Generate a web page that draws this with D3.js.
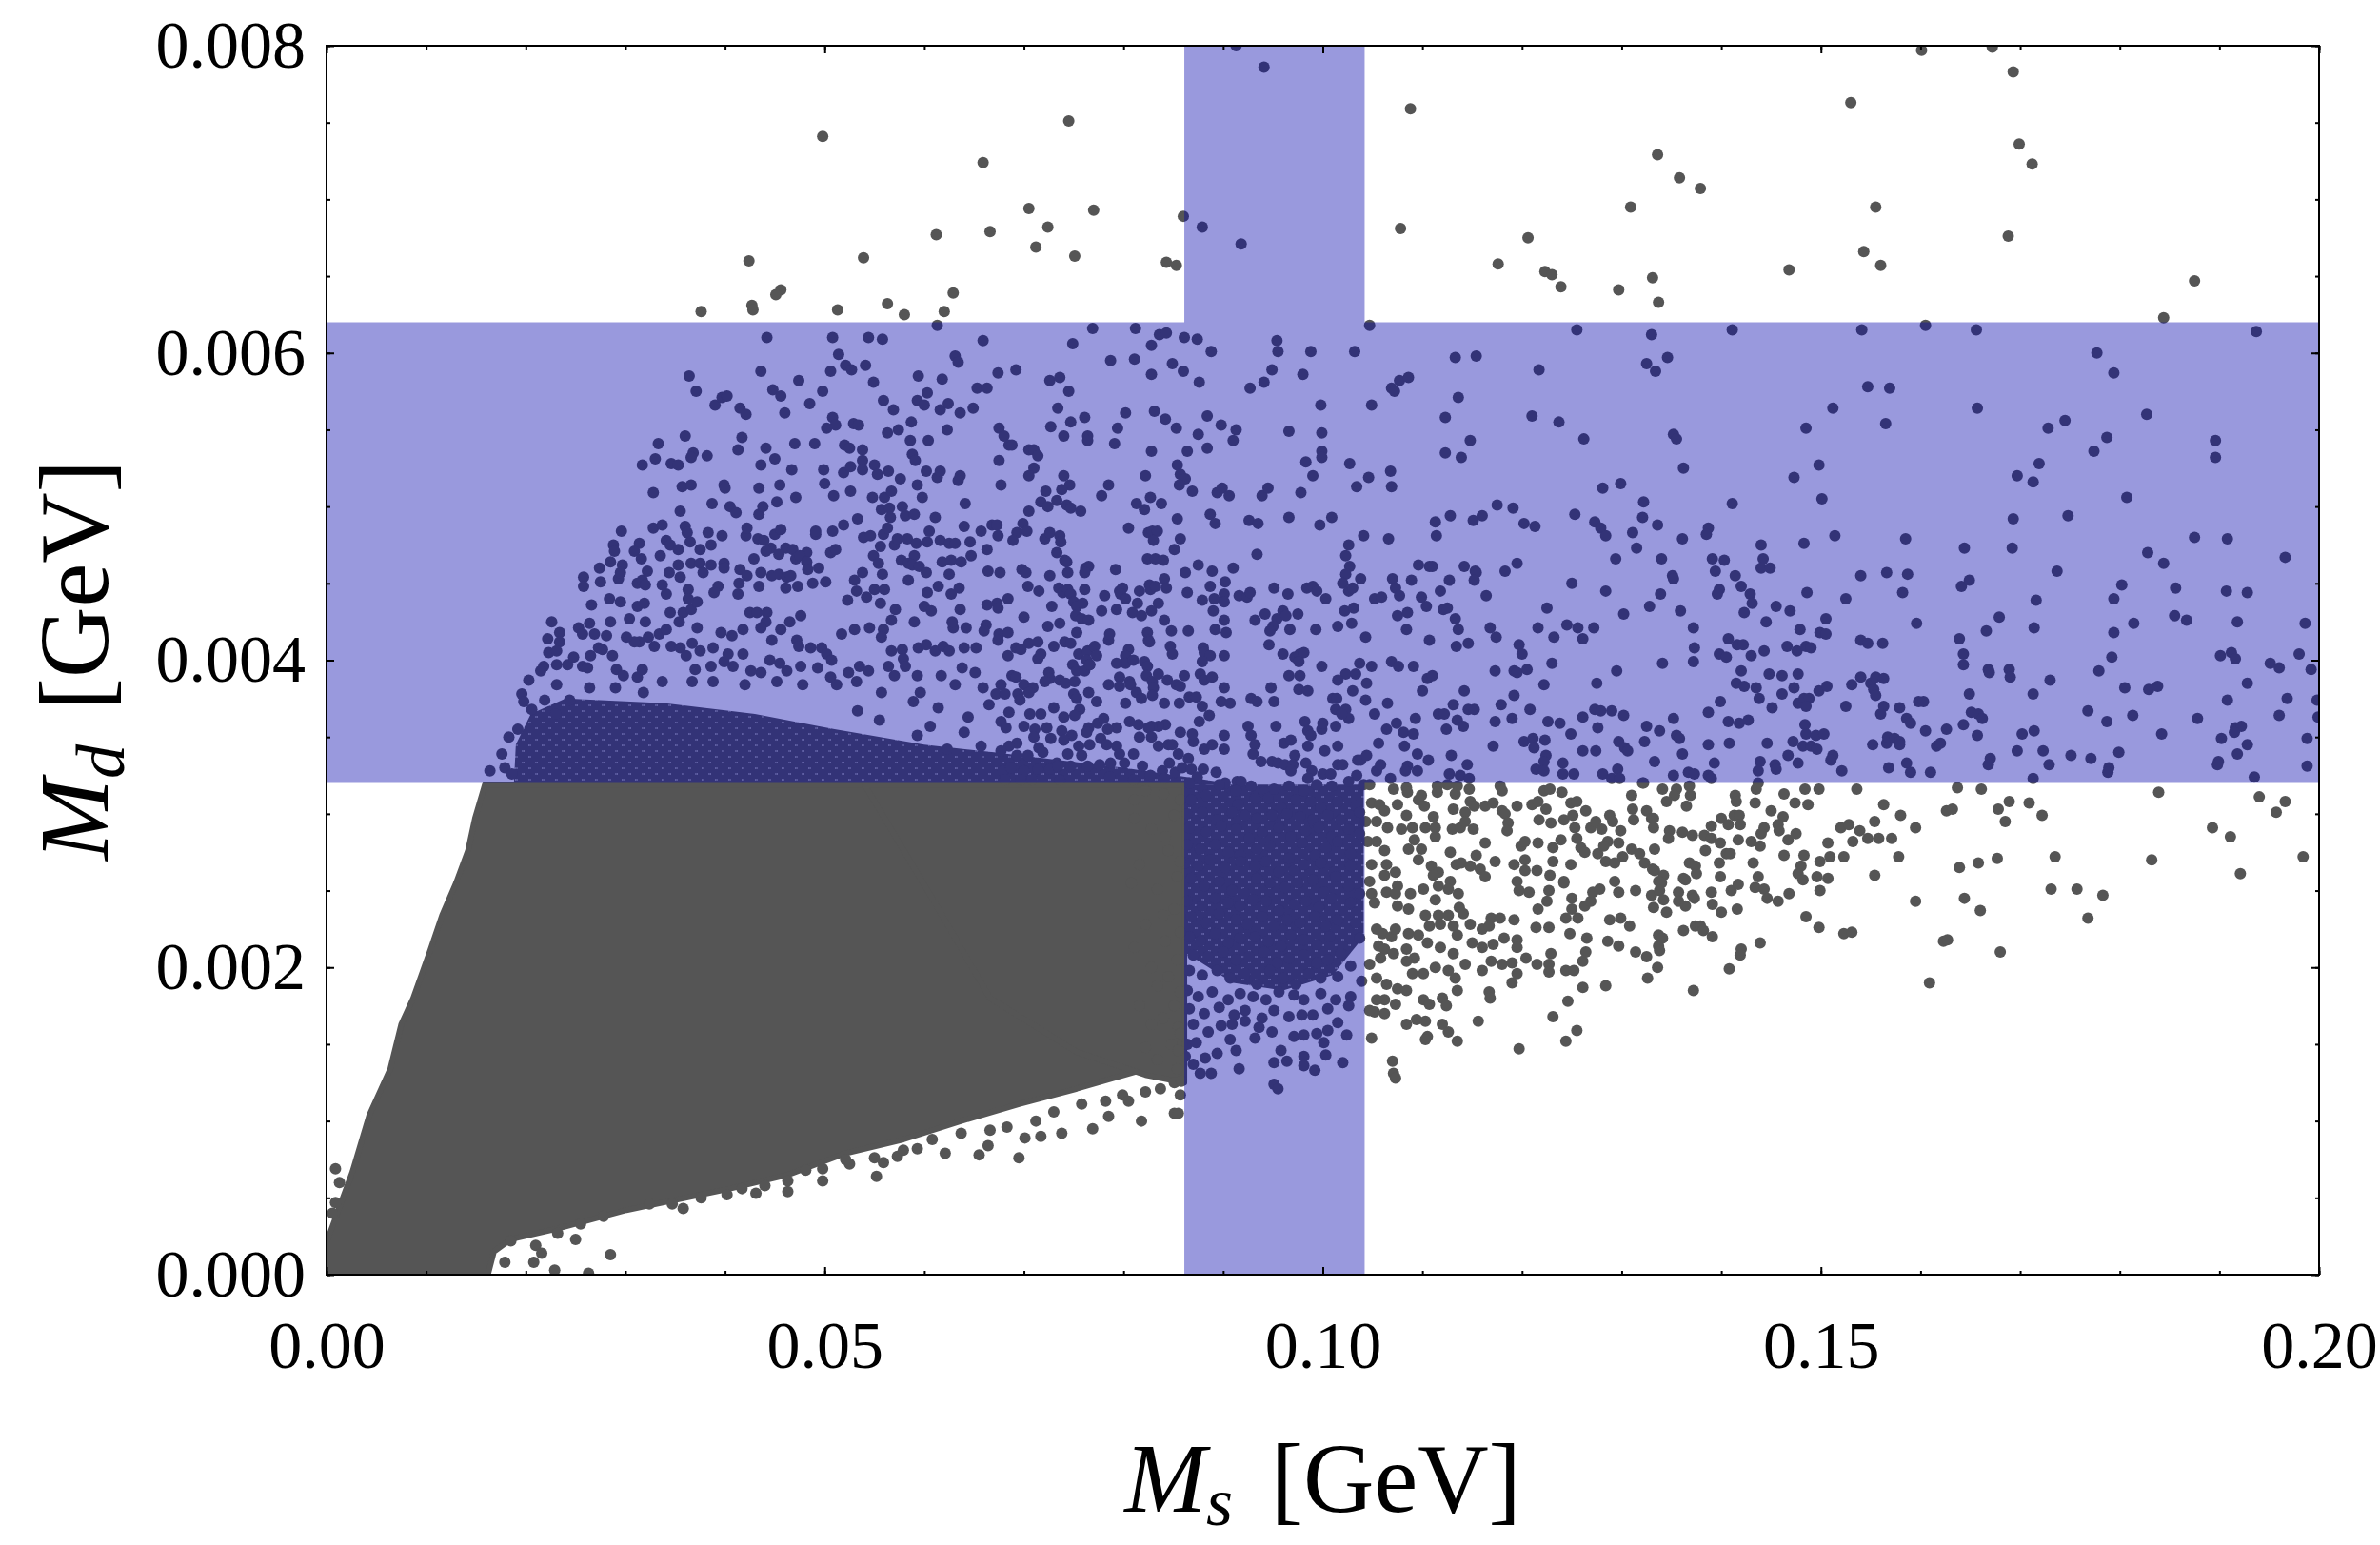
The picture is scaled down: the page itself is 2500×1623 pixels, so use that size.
<!DOCTYPE html>
<html lang="en">
<head>
<meta charset="utf-8"/>
<title>Md vs Ms scan</title>
<script src="https://cdn.jsdelivr.net/npm/d3@7"></script>
<style>
  body { margin: 0; background: #fff; }
  text { font-family: "Liberation Serif", "DejaVu Serif", serif; }
</style>
</head>
<body>
<svg id="chart"></svg>
<script>
// axis ticks (GeV)
const xTicks = [0, 0.05, 0.10, 0.15, 0.20]
const yTicks = [0, 0.002, 0.004, 0.006, 0.008]
// allowed ranges drawn as the blue cross (GeV)
const bandMs = [0.0861, 0.1042]
const bandMd = [0.0032, 0.0062]

// scan points below, all read off the picture, [Ms, Md] in MeV
// outlines of the regions where points overlap into a (nearly) solid mass
const coreLow = [[0,0],[0,0.21],[2.6,0.67],[4.3,1.04],[6.4,1.34],[7.5,1.63],[8.7,1.80],[10.4,2.11],[11.6,2.34],[13.0,2.55],[14.2,2.76],[14.9,2.97],[15.9,3.19],[55.0,3.19],[60.8,2.49],[66.6,1.86],[75.3,1.50],[82.2,1.34],[75.3,1.21],[69.5,1.11],[63.7,1.00],[57.9,0.88],[52.1,0.79],[46.3,0.65],[40.5,0.56],[30.1,0.42],[23.2,0.30],[18.5,0.23],[16.8,0.15],[16.2,0]]
const coreLowEdge = [[54.0,3.19],[86.1,3.19],[86.1,1.25],[82.2,1.30],[75.3,1.45],[66.6,1.80],[60.8,2.45]]
const coreBand = [[18.8,3.19],[19.0,3.45],[20.5,3.65],[24.0,3.75],[34.0,3.72],[43.0,3.65],[51.0,3.55],[60.0,3.45],[67.0,3.40],[80.0,3.30],[90.4,3.20],[90.4,3.19]]
const coreStrip = [[86.1,3.19],[104.1,3.19],[104.1,2.20],[101.0,1.95],[96.0,1.85],[91.0,1.90],[86.1,2.10]]

const ptsTop = [[91.3,8.00],[94.1,7.86],[49.8,7.41],[74.5,7.51],[65.9,7.24],[70.5,6.94],[77.0,6.93],[86.0,6.89],[87.9,6.82],[91.8,6.71],[61.2,6.77],[66.6,6.79],[72.4,6.82],[71.2,6.69],[75.1,6.63],[42.4,6.60],[53.9,6.62],[84.3,6.59],[85.3,6.57],[45.6,6.41],[45.1,6.38],[62.9,6.39],[42.7,6.31],[42.8,6.28],[37.6,6.27],[51.3,6.28],[56.3,6.32],[58.0,6.25],[62.0,6.27],[160.1,7.97],[167.2,7.99],[169.3,7.83],[108.8,7.59],[153.0,7.63],[169.9,7.36],[171.2,7.23],[133.6,7.29],[135.8,7.14],[137.9,7.07],[130.9,6.95],[155.5,6.95],[107.8,6.81],[120.6,6.75],[168.8,6.76],[154.3,6.66],[156.0,6.57],[117.6,6.58],[122.3,6.53],[123.0,6.51],[146.8,6.54],[133.1,6.49],[123.9,6.43],[129.7,6.41],[133.7,6.33],[187.5,6.47],[184.4,6.23]]

const ptsBandLeft = [[44.2,6.10],[50.8,6.10],[54.4,6.10],[55.8,6.09],[61.3,6.18],[65.9,6.08],[36.4,5.85],[37.1,5.75],[43.6,5.88],[47.4,5.82],[50.6,5.88],[51.4,5.99],[52.1,5.92],[52.7,5.89],[54.1,5.92],[54.9,5.81],[59.4,5.85],[61.8,5.83],[63.1,5.98],[63.4,5.94],[65.3,5.77],[66.3,5.77],[39.0,5.66],[39.7,5.71],[40.2,5.72],[41.5,5.64],[42.1,5.60],[44.8,5.76],[45.6,5.72],[46.0,5.61],[48.5,5.67],[49.8,5.75],[50.8,5.58],[51.1,5.53],[50.2,5.51],[52.9,5.54],[53.4,5.53],[55.9,5.69],[56.9,5.63],[59.3,5.69],[60.0,5.66],[60.3,5.74],[61.6,5.63],[62.4,5.67],[63.6,5.61],[64.9,5.64],[58.7,5.55],[57.4,5.50],[56.3,5.48],[62.3,5.50],[60.4,5.43],[36.0,5.46],[33.3,5.41],[41.7,5.45],[41.3,5.37],[44.1,5.38],[47.0,5.41],[49.0,5.41],[52.0,5.40],[52.5,5.38],[53.8,5.37],[58.6,5.43],[58.8,5.34],[59.1,5.30],[38.2,5.33],[36.8,5.35],[36.6,5.32],[33.0,5.31],[31.7,5.27],[34.6,5.28],[35.3,5.27],[43.6,5.27],[45.0,5.31],[46.7,5.24],[49.9,5.24],[51.9,5.22],[52.6,5.26],[53.8,5.30],[53.8,5.24],[55.0,5.27],[55.3,5.21],[56.4,5.23],[57.6,5.18],[60.2,5.23],[61.3,5.19],[61.6,5.23],[63.6,5.20],[63.4,5.17],[32.8,5.09],[35.7,5.13],[36.6,5.14],[39.9,5.14],[40.0,5.12],[43.4,5.12],[45.5,5.14],[47.1,5.06],[50.0,5.15],[50.9,5.07],[52.6,5.10],[54.8,5.06],[56.0,5.06],[56.7,5.10],[59.3,5.14],[59.8,5.06],[64.1,5.02],[38.7,5.02],[35.5,4.97],[40.5,5.00],[41.1,4.96],[43.4,4.95],[43.8,5.00],[45.2,5.03],[53.3,4.92],[55.7,4.98],[56.5,4.99],[56.6,4.93],[57.8,5.00],[58.1,4.94],[59.0,4.95],[61.1,4.93],[29.6,4.84],[32.8,4.86],[33.7,4.88],[36.0,4.87],[36.2,4.83],[36.5,4.77],[34.1,4.78],[34.5,4.75],[35.3,4.72],[38.3,4.83],[38.6,4.75],[37.5,4.72],[39.7,4.81],[42.1,4.81],[42.2,4.86],[43.3,4.79],[43.9,4.78],[44.6,4.73],[45.0,4.82],[45.6,4.85],[46.1,4.73],[46.8,4.72],[48.2,4.70],[49.1,4.82],[49.1,4.84],[50.8,4.84],[50.6,4.70],[51.1,4.72],[51.9,4.88],[53.9,4.80],[54.6,4.81],[55.6,4.74],[55.9,4.82],[56.3,4.86],[57.0,4.75],[57.3,4.79],[58.3,4.79],[59.0,4.68],[59.2,4.76],[60.3,4.77],[60.5,4.84],[61.6,4.78],[62.5,4.76],[63.1,4.76],[64.0,4.87],[64.6,4.77],[65.7,4.84],[66.3,4.72],[66.8,4.88],
[28.8,4.75],[28.9,4.71],[31.4,4.76],[30.9,4.71],[31.6,4.66],[28.5,4.64],[29.7,4.62],[27.4,4.60],[25.8,4.54],[25.8,4.48],[27.5,4.51],[29.3,4.53],[29.5,4.57],[31.2,4.50],[31.7,4.52],[32.2,4.58],[33.5,4.68],[34.4,4.57],[35.5,4.54],[35.3,4.62],[36.6,4.63],[37.5,4.63],[37.8,4.57],[38.6,4.62],[39.9,4.63],[39.9,4.60],[41.5,4.59],[42.2,4.55],[42.9,4.66],[44.1,4.71],[43.6,4.57],[44.7,4.55],[45.4,4.56],[46.2,4.54],[46.6,4.55],[45.4,4.69],[47.1,4.66],[47.5,4.68],[48.2,4.64],[48.3,4.59],[49.4,4.60],[50.1,4.51],[48.8,4.50],[47.3,4.48],[46.1,4.47],[43.4,4.48],[41.4,4.50],[41.3,4.43],[39.3,4.48],[38.9,4.44],[36.3,4.46],[34.1,4.43],[33.7,4.49],[32.0,4.49],[54.9,4.68],[55.4,4.63],[55.8,4.56],[57.7,4.65],[58.4,4.63],[58.8,4.62],[59.5,4.61],[60.2,4.57],[61.8,4.64],[62.7,4.65],[63.7,4.64],[64.7,4.68],[66.4,4.58],[62.5,4.56],[58.4,4.52],[53.0,4.52],[53.8,4.57],[55.0,4.46],[56.0,4.46],[63.5,4.47],[60.3,4.44],[61.4,4.48],[62.7,4.43],[53.2,4.45],[52.3,4.39],[66.3,4.36],
[22.6,4.25],[23.4,4.18],[22.2,4.14],[23.4,4.12],[22.3,4.05],[23.1,4.06],[21.8,3.96],[21.5,3.93],[20.3,3.87],[19.6,3.78],[19.8,3.73],[20.6,3.68],[21.9,3.74],[23.1,3.84],[23.1,3.97],[24.2,3.97],[24.8,4.02],[25.7,3.96],[26.2,3.95],[26.5,4.03],[26.6,4.36],[25.3,4.21],[26.4,4.24],[25.7,4.17],[26.9,4.17],[28.1,4.16],[28.5,4.25],[28.4,4.40],[29.5,4.38],[30.4,4.27],[31.2,4.35],[31.9,4.37],[32.0,4.25],[32.3,4.15],[31.4,4.12],[30.9,4.12],[30.1,4.15],[27.3,4.08],[27.7,4.07],[28.7,4.03],[29.1,3.94],[29.8,3.90],[31.2,3.89],[31.7,3.94],[32.9,4.09],[33.4,4.17],[34.1,4.20],[34.5,4.31],[35.8,4.31],[35.4,4.25],[36.6,4.33],[37.2,4.38],[36.3,4.40],[37.2,4.21],[34.6,4.09],[35.5,4.08],[36.1,4.03],[36.7,4.11],[37.5,4.06],[38.8,4.08],[39.6,4.18],[40.7,4.16],[41.8,4.20],[42.5,4.31],[43.2,4.31],[44.2,4.31],[44.1,4.25],[43.6,4.21],[44.7,4.13],[45.6,4.20],[46.5,4.25],[47.6,4.29],[47.2,4.13],[47.4,4.09],[48.6,4.08],[49.7,4.08],[50.2,4.04],[50.7,4.00],[51.7,4.17],[53.0,4.20],[54.5,4.21],[55.9,4.20],[56.7,4.26],[57.1,4.33],[55.6,4.37],[54.2,4.41],[55.7,4.15],[56.7,4.06],[57.8,4.07],[57.9,4.01],[59.4,4.08],[60.2,4.10],[61.1,4.06],[61.9,4.09],[62.5,4.06],[64.0,4.08],[65.2,4.08],[62.9,4.21],[64.2,4.21],[62.8,4.25],[66.2,4.23],[66.0,4.19],[60.0,4.35],[59.0,4.25],[60.7,4.32],[63.6,4.33],[47.6,3.96],[46.2,3.93],[45.5,3.98],[43.6,3.92],[42.6,3.93],[40.8,3.96],[39.9,3.99],[38.6,3.96],[37.0,3.94],[40.3,4.04],[41.8,4.04],[44.5,4.00],[49.3,3.95],[50.6,3.89],[52.4,3.92],[53.5,3.96],[54.4,3.93],[56.4,3.96],[57.0,3.90],[58.1,3.96],[59.3,3.90],[61.7,3.90],[63.1,3.84],[63.8,3.95],[65.1,3.92],[65.9,3.82],[59.6,3.79],[55.7,3.79],[53.2,3.86],[51.2,3.84],[47.8,3.84],[45.2,3.86],[42.0,3.84],[38.8,3.86],[36.7,3.86],[33.7,3.86],[31.8,3.79],[29.0,3.82],[26.4,3.82],[24.4,3.74],[23.0,3.65],[66.5,3.71],[64.4,3.63],[61.4,3.69],[58.9,3.73],[60.6,3.57],[64.0,3.53],[65.7,3.44],[62.3,3.42],[59.3,3.51],[55.5,3.61],[53.3,3.67],[16.4,3.28],[17.6,3.39],[18.3,3.50],[19.2,3.55],[17.9,3.30],[18.6,3.26]]

const ptsBandMid = [[104.7,6.18],[125.5,6.15],[133.0,6.12],[95.4,6.08],[95.5,6.01],[98.8,6.01],[103.2,6.01],[113.3,5.97],[115.4,5.98],[121.7,5.89],[132.5,5.93],[133.4,5.88],[92.7,5.77],[94.1,5.81],[94.9,5.89],[98.0,5.86],[106.9,5.77],[107.2,5.75],[107.7,5.82],[108.6,5.84],[99.8,5.66],[104.9,5.66],[113.6,5.71],[112.3,5.58],[121.0,5.59],[123.7,5.55],[96.6,5.49],[99.9,5.48],[114.8,5.43],[126.2,5.44],[99.9,5.36],[99.9,5.32],[98.3,5.29],[102.7,5.28],[112.3,5.35],[113.9,5.32],[99.0,5.20],[104.6,5.19],[106.8,5.23],[106.9,5.13],[103.4,5.13],[97.8,5.09],[93.9,5.07],[94.5,5.12],[128.1,5.12],[129.9,5.15],[132.2,5.03],[117.5,5.01],[119.1,4.99],[92.6,4.91],[93.5,4.89],[96.6,4.93],[99.7,4.88],[100.9,4.93],[111.3,4.90],[112.8,4.94],[115.1,4.91],[116.0,4.94],[120.2,4.89],[121.3,4.87],[125.3,4.95],[127.3,4.90],[127.9,4.86],[132.1,4.93],[133.6,4.88],[104.1,4.81],[106.6,4.79],[111.4,4.81],[102.6,4.75],[102.3,4.68],[102.7,4.61],[128.4,4.81],[131.1,4.83],[131.5,4.73],[129.4,4.66],[93.4,4.69],[109.6,4.62],[110.7,4.61],[111.0,4.61],[114.2,4.61],[115.3,4.58],[115.4,4.57],[118.3,4.58],[119.5,4.63],[102.3,4.56],[102.0,4.50],[103.8,4.53],[107.0,4.53],[107.3,4.47],[108.9,4.52],[112.7,4.52],[115.2,4.52],[111.8,4.45],[125.0,4.50],[128.4,4.45],[95.1,4.47],[96.5,4.43],[98.4,4.47],[99.0,4.48],[99.4,4.45],[100.3,4.40],[102.6,4.45],[103.0,4.47],[105.2,4.40],[105.9,4.41],[107.7,4.42],[109.9,4.41],[110.4,4.35],[116.4,4.42],[93.2,4.26],[94.2,4.30],[95.4,4.27],[96.0,4.32],[96.3,4.29],[97.5,4.30],[96.7,4.20],[95.0,4.22],[94.7,4.19],[99.3,4.20],[101.5,4.22],[102.2,4.32],[103.1,4.34],[102.9,4.24],[104.3,4.15],[107.5,4.29],[108.5,4.31],[108.4,4.20],[112.1,4.33],[112.5,4.34],[113.3,4.27],[113.6,4.20],[122.5,4.34],[130.2,4.30],[132.8,4.35],[110.7,4.13],[113.4,4.09],[114.6,4.11],[116.8,4.21],[117.4,4.15],[119.7,4.10],[120.0,4.04],[121.6,4.21],[123.2,4.15],[124.5,4.23],[125.6,4.21],[126.1,4.14],[127.2,4.21],[94.6,4.10],[96.0,4.04],[97.2,4.02],[97.7,4.04],[98.1,4.05],[97.6,3.99],[99.9,3.96],[102.3,3.91],[103.3,3.91],[103.7,3.98],[104.9,3.96],[106.9,3.99],[107.6,3.96],[109.1,3.96],[110.5,3.88],[111.0,3.90],[110.0,3.80],[117.3,3.93],[119.2,3.93],[119.5,3.92],[120.5,3.94],[123.0,3.98],[129.5,3.93],[96.6,3.90],[97.7,3.90],[94.8,3.82],[97.6,3.81],[98.5,3.80],[101.5,3.87],[103.0,3.80],[104.4,3.85],[104.3,3.74],[106.5,3.72],[114.2,3.80],[122.2,3.84],[127.5,3.85],[119.2,3.77],[92.8,3.75],[93.4,3.73],[95.1,3.73],[101.0,3.75],[101.4,3.75],[101.3,3.68],[102.3,3.68],[102.6,3.62],[101.9,3.65],[105.2,3.65],[107.4,3.59],[109.3,3.62],[111.6,3.65],[112.2,3.65],[113.1,3.71],[113.5,3.61],[114.6,3.68],[115.2,3.68],[114.1,3.57],[112.4,3.55],[117.9,3.71],[117.3,3.60],[119.0,3.62],[120.8,3.68],[122.6,3.60],[123.8,3.59],[126.1,3.63],[127.3,3.68],[127.9,3.67],[129.0,3.67],[130.2,3.64],[132.5,3.57],[92.5,3.57],[92.8,3.51],[93.2,3.45],[95.3,3.57],[96.1,3.46],[96.8,3.48],[98.2,3.60],[98.5,3.54],[98.8,3.51],[98.5,3.44],[99.9,3.55],[100.0,3.59],[101.3,3.57],[101.5,3.44],[100.2,3.41],[106.4,3.55],[105.6,3.46],[108.1,3.53],[109.1,3.52],[108.2,3.44],[109.5,3.39],[110.6,3.35],[112.9,3.38],[117.1,3.44],[120.2,3.47],[121.1,3.49],[121.2,3.43],[122.3,3.48],[122.4,3.38],[122.2,3.34],[124.1,3.33],[124.9,3.52],[126.1,3.41],[127.4,3.41],[127.6,3.56],[129.7,3.47],[130.3,3.43],[130.6,3.41],[132.3,3.47],[133.3,3.34],[93.0,3.39],[93.8,3.34],[94.9,3.34],[95.5,3.33],[96.2,3.32],[97.2,3.38],[97.0,3.32],[98.3,3.33],[98.9,3.28],[96.8,3.28],[98.5,3.23],[100.0,3.26],[100.8,3.26],[101.5,3.32],[102.0,3.32],[103.5,3.35],[103.8,3.35],[104.4,3.38],[103.4,3.25],[105.4,3.28],[105.8,3.32],[106.8,3.23],[108.5,3.31],[108.3,3.28],[109.5,3.28],[114.5,3.32],[112.7,3.26],[113.8,3.25],[114.7,3.23],[121.4,3.29],[122.2,3.28],[124.1,3.26],[125.2,3.26],[128.1,3.26],[129.0,3.23],[129.6,3.29],[129.8,3.23],[132.2,3.20],
[67.4,5.87],[69.2,5.89],[72.6,5.82],[73.6,5.84],[74.5,5.75],[74.9,6.06],[76.9,6.16],[78.7,5.95],[81.1,5.96],[81.2,6.16],[82.8,6.05],[82.8,5.86],[83.6,6.12],[84.3,6.13],[84.9,5.93],[86.0,5.88],[86.1,6.10],[87.4,6.09],[87.6,5.81],[88.8,6.01],[67.5,5.51],[68.0,5.46],[68.5,5.40],[68.8,5.40],[70.5,5.37],[71.0,5.37],[71.4,5.33],[67.5,5.30],[71.0,5.25],[70.5,5.20],[67.7,5.14],[72.7,5.52],[73.4,5.64],[74.0,5.46],[74.7,5.55],[76.1,5.58],[76.4,5.46],[76.4,5.43],[79.1,5.41],[79.4,5.51],[80.2,5.61],[83.1,5.62],[84.2,5.57],[85.3,5.51],[87.5,5.47],[88.4,5.59],[89.8,5.53],[91.3,5.50],[91.0,5.43],[82.8,5.36],[86.4,5.36],[88.4,5.38],[85.4,5.27],[85.7,5.21],[86.2,5.18],[85.6,5.14],[86.9,5.10],[89.4,5.09],[89.9,5.12],[90.6,5.07],[82.2,5.20],[78.5,5.14],[77.8,5.07],[74.0,5.20],[74.6,5.14],[73.8,5.11],[72.2,5.10],[71.7,5.03],[72.4,5.00],[73.3,5.04],[74.3,5.01],[74.7,4.99],[75.7,4.97],[70.5,4.97],[81.3,5.02],[82.1,4.98],[82.7,5.06],[83.8,5.02],[88.7,4.95],[89.2,4.89],[85.4,4.92],[67.3,4.88],[67.4,4.81],[69.3,4.83],[69.9,4.89],[70.3,4.84],[68.9,4.78],[72.1,4.79],[72.6,4.83],[73.6,4.81],[73.7,4.77],[73.3,4.70],[74.1,4.65],[74.3,4.64],[80.5,4.86],[82.5,4.83],[82.9,4.84],[83.4,4.84],[83.0,4.78],[85.7,4.79],[85.1,4.72],[82.4,4.66],[83.2,4.66],[84.0,4.65],[67.6,4.57],[69.8,4.59],[70.2,4.57],[72.6,4.55],[74.4,4.57],[76.2,4.60],[76.5,4.61],[76.1,4.57],[79.2,4.59],[87.5,4.62],[86.2,4.57],[88.9,4.58],[91.0,4.60],[70.4,4.48],[71.5,4.45],[73.5,4.47],[73.9,4.44],[74.4,4.46],[74.7,4.43],[76.1,4.46],[78.1,4.42],[79.6,4.45],[79.9,4.47],[79.7,4.43],[80.2,4.40],[81.6,4.45],[82.6,4.49],[82.7,4.46],[83.2,4.48],[84.1,4.53],[84.3,4.47],[83.5,4.37],[81.4,4.37],[86.4,4.44],[87.9,4.39],[88.7,4.48],[89.1,4.40],[90.1,4.43],[90.2,4.51],[90.1,4.38],[91.6,4.42],[92.4,4.41],[92.7,4.44],[67.3,4.37],[67.4,4.34],[68.4,4.40],[70.0,4.28],[72.8,4.35],[72.4,4.22],[73.6,4.24],[75.0,4.38],[75.3,4.35],[75.9,4.37],[75.2,4.29],[75.8,4.27],[76.5,4.26],[77.8,4.32],[79.3,4.33],[80.9,4.31],[81.8,4.29],[82.8,4.32],[84.1,4.26],[84.8,4.19],[86.5,4.19],[89.0,4.32],[89.2,4.20],[90.3,4.18],[90.1,4.26],[67.5,4.17],[68.4,4.18],[67.4,4.13],[69.2,4.08],[69.7,4.07],[70.5,4.11],[71.4,4.12],[68.4,4.03],[71.4,4.01],[71.7,4.04],[73.0,4.09],[74.1,4.12],[74.7,4.11],[75.3,4.18],[75.5,4.04],[76.4,4.06],[77.1,4.09],[77.3,4.03],[78.5,4.13],[78.6,4.17],[80.5,4.07],[80.2,4.03],[82.4,4.18],[82.5,4.13],[82.6,4.12],[84.7,4.09],[84.9,4.04],[88.0,4.08],[88.1,4.05],[88.7,4.03],[90.1,4.03],[87.9,3.99],[80.2,3.98],[79.3,3.98],[81.0,4.00],[82.1,3.99],[82.4,3.96],[76.3,4.00],[76.6,3.97],[74.9,3.97],
[68.8,3.90],[69.2,3.89],[70.0,3.84],[70.9,3.82],[70.5,3.79],[67.7,3.84],[67.2,3.78],[68.1,3.78],[69.4,3.78],[69.6,3.74],[72.5,3.92],[72.6,3.88],[72.1,3.86],[73.6,3.87],[74.2,3.85],[75.1,3.86],[75.3,3.93],[75.0,3.78],[76.1,3.93],[76.6,3.97],[76.5,3.79],[75.3,3.75],[75.6,3.68],[77.3,3.73],[78.5,3.84],[79.6,3.89],[79.6,3.83],[80.6,3.86],[80.7,3.84],[80.2,3.72],[81.3,3.79],[81.8,3.75],[82.3,3.90],[82.9,3.86],[83.0,3.82],[82.9,3.77],[83.5,3.91],[84.4,3.87],[85.3,3.84],[85.7,3.83],[86.1,3.90],[86.6,3.76],[87.3,3.76],[87.7,3.91],[88.1,3.87],[88.9,3.89],[90.1,3.82],[89.8,3.73],[90.7,3.72],[87.9,3.70],[88.6,3.64],[87.6,3.60],[85.6,3.72],[84.1,3.72],[84.2,3.58],[83.5,3.57],[82.8,3.57],[82.5,3.56],[81.5,3.58],[80.6,3.60],[79.3,3.56],[78.4,3.55],[77.4,3.59],[78.0,3.62],[76.5,3.56],[76.3,3.53],[75.1,3.64],[74.0,3.63],[73.0,3.69],[71.7,3.65],[70.6,3.65],[68.5,3.66],[67.7,3.60],[68.2,3.56],[70.0,3.57],[71.1,3.55],[72.3,3.56],[73.8,3.54],[74.8,3.51],[74.0,3.48],[72.7,3.49],[71.5,3.43],[71.0,3.50],[69.3,3.46],[68.5,3.44],[67.7,3.41],[69.3,3.38],[70.4,3.38],[71.9,3.40],[73.3,3.33],[74.4,3.39],[75.8,3.38],[75.5,3.44],[76.6,3.45],[77.7,3.49],[78.3,3.45],[79.3,3.44],[79.6,3.39],[81.0,3.39],[81.6,3.50],[82.8,3.50],[83.5,3.44],[84.5,3.45],[84.9,3.45],[85.5,3.39],[86.5,3.36],[87.0,3.47],[88.1,3.42],[88.9,3.45],[90.1,3.42],[90.1,3.51],[86.9,3.52],[85.7,3.53],[67.9,3.28],[68.7,3.30],[70.0,3.28],[71.4,3.29],[72.6,3.29],[73.4,3.31],[74.7,3.31],[76.4,3.31],[77.6,3.32],[78.7,3.33],[80.1,3.33],[81.9,3.31],[82.7,3.25],[83.9,3.28],[84.6,3.33],[85.2,3.27],[85.9,3.30],[86.8,3.29],[88.0,3.29],[89.3,3.27],[90.2,3.20],[91.4,3.21],[91.8,3.21],[68.1,3.22],[69.7,3.22],[70.8,3.22],[73.6,3.22],[78.6,3.24],[81.0,3.22],[84.1,3.23],[87.4,3.24]]

const ptsBandRight = [[141.1,6.15],[154.1,6.15],[160.5,6.18],[165.6,6.15],[193.7,6.14],[134.6,5.97],[177.7,6.00],[179.4,5.87],[154.7,5.78],[156.9,5.77],[151.2,5.64],[165.7,5.64],[182.7,5.60],[148.5,5.51],[156.5,5.54],[172.8,5.51],[174.5,5.56],[135.2,5.47],[135.5,5.44],[178.7,5.45],[189.6,5.43],[136.2,5.25],[149.8,5.27],[177.4,5.36],[189.6,5.32],[171.9,5.28],[147.3,5.19],[169.7,5.20],[171.3,5.16],[150.1,5.05],[180.7,5.06],[141.1,5.02],[169.3,4.92],[174.8,4.94],[138.7,4.86],[138.5,4.82],[136.1,4.79],[151.4,4.81],[148.3,4.76],[144.0,4.75],[158.5,4.79],[164.4,4.73],[169.2,4.73],[187.5,4.80],[190.8,4.79],[134.0,4.66],[139.1,4.66],[140.3,4.65],[144.2,4.66],[144.0,4.60],[144.9,4.60],[139.4,4.58],[182.8,4.70],[184.4,4.63],[196.6,4.67],[135.1,4.55],[135.2,4.53],[141.4,4.55],[154.0,4.55],[156.6,4.57],[158.7,4.56],[173.7,4.58],[180.2,4.49],[164.1,4.48],[164.9,4.52],[133.9,4.43],[139.8,4.46],[139.6,4.43],[142.0,4.48],[142.9,4.43],[143.1,4.37],[148.6,4.44],[158.2,4.44],[185.6,4.47],[190.7,4.45],[192.8,4.44],[135.9,4.32],[145.5,4.35],[146.9,4.32],[152.5,4.40],[142.3,4.31],[171.6,4.39],[179.4,4.40],[137.2,4.21],[144.5,4.25],[150.5,4.27],[159.6,4.24],[167.9,4.28],[185.5,4.29],[186.7,4.26],[191.8,4.25],[198.6,4.24],[181.4,4.24],[147.9,4.20],[149.9,4.18],[150.5,4.17],[166.6,4.19],[171.4,4.21],[179.4,4.18],[140.7,4.14],[141.6,4.10],[142.2,4.10],[137.3,4.08],[146.6,4.09],[147.6,4.06],[148.5,4.09],[149.0,4.08],[144.3,4.06],[154.0,4.13],[154.7,4.11],[156.2,4.11],[163.9,4.14],[139.8,4.04],[140.5,4.02],[143.0,4.03],[137.2,3.99],[134.1,3.98],[164.3,4.04],[164.3,3.97],[179.2,4.02],[190.1,4.03],[191.2,4.05],[191.6,4.01],[198.0,4.04],[195.1,3.98],[196.0,3.95],[199.2,3.94],[142.0,3.93],[144.8,3.91],[146.1,3.90],[147.7,3.91],[166.8,3.94],[166.9,3.92],[168.9,3.94],[169.0,3.89],[177.9,3.93],[173.0,3.87],[141.5,3.85],[142.3,3.83],[143.5,3.82],[146.1,3.78],[147.3,3.82],[149.8,3.80],[150.6,3.83],[153.1,3.84],[154.0,3.89],[155.0,3.85],[155.5,3.89],[156.3,3.88],[155.3,3.81],[155.5,3.77],[164.9,3.78],[171.3,3.78],[180.5,3.82],[182.9,3.81],[183.8,3.83],[192.8,3.85],[139.9,3.73],[143.8,3.75],[145.1,3.69],[147.7,3.72],[148.3,3.75],[148.8,3.75],[148.5,3.70],[152.5,3.70],[156.3,3.70],[157.9,3.69],[159.8,3.73],[160.3,3.73],[190.8,3.74],[196.8,3.75],[199.8,3.74],[135.2,3.62],[138.7,3.66],[140.7,3.60],[141.8,3.59],[142.7,3.61],[156.0,3.65],[158.6,3.62],[159.0,3.59],[165.1,3.66],[165.8,3.65],[166.2,3.62],[164.3,3.58],[176.8,3.67],[178.7,3.60],[181.3,3.64],[187.8,3.62],[196.0,3.64],[199.9,3.63],[133.8,3.54],[135.5,3.51],[135.8,3.49],[148.4,3.58],[148.5,3.52],[149.5,3.51],[150.3,3.52],[160.5,3.54],[162.6,3.55],[165.7,3.51],[170.2,3.52],[171.4,3.54],[184.2,3.52],[190.2,3.49],[191.6,3.56],[192.2,3.57],[191.5,3.53],[198.8,3.49],[136.1,3.39],[138.7,3.45],[140.8,3.46],[144.6,3.46],[147.2,3.47],[148.2,3.44],[149.0,3.44],[149.6,3.42],[155.2,3.45],[156.6,3.46],[156.7,3.50],[157.4,3.49],[157.9,3.47],[157.9,3.45],[161.6,3.44],[162.0,3.46],[192.8,3.45],[139.3,3.33],[143.9,3.34],[145.4,3.32],[145.5,3.29],[146.7,3.38],[147.7,3.33],[151.2,3.38],[151.0,3.35],[158.6,3.33],[167.0,3.36],[166.8,3.32],[169.7,3.41],[172.3,3.41],[172.9,3.32],[175.1,3.38],[177.1,3.36],[179.9,3.40],[191.8,3.39],[189.9,3.34],[189.8,3.32],[135.2,3.25],[136.7,3.27],[137.3,3.26],[138.7,3.25],[139.0,3.23],[143.7,3.28],[152.1,3.28],[156.8,3.30],[159.0,3.27],[161.0,3.27],[171.3,3.23],[178.9,3.30],[178.8,3.27],[193.5,3.24],[198.8,3.31],[143.7,3.20]]

const ptsStrip = [[86.6,3.20],[87.9,3.16],[89.6,3.19],[91.3,3.15],[92.8,3.18],[94.1,3.14],[95.1,3.16],[96.6,3.18],[98.1,3.15],[99.4,3.19],[100.9,3.18],[102.6,3.21],[104.1,3.19],[86.8,3.09],[88.3,3.12],[90.0,3.11],[91.5,3.06],[93.2,3.10],[94.5,3.10],[95.8,3.04],[97.3,3.09],[98.8,3.08],[99.8,3.04],[101.5,3.08],[103.3,3.05],[86.4,3.00],[87.9,3.01],[89.4,2.96],[90.9,3.01],[92.2,2.99],[93.4,2.97],[94.9,2.99],[96.4,3.00],[97.7,2.98],[99.0,2.96],[100.5,2.99],[101.8,2.96],[103.7,3.01],[86.6,2.91],[88.3,2.88],[89.8,2.92],[91.3,2.90],[92.6,2.84],[93.9,2.88],[95.6,2.91],[96.8,2.85],[98.3,2.89],[99.6,2.91],[100.9,2.85],[102.6,2.90],[103.7,2.87],[86.4,2.80],[87.7,2.77],[89.2,2.80],[90.5,2.75],[91.7,2.73],[93.4,2.77],[94.7,2.79],[96.6,2.71],[97.9,2.81],[99.2,2.73],[100.3,2.78],[101.5,2.82],[102.8,2.74],[86.2,2.68],[87.5,2.66],[88.7,2.70],[90.2,2.65],[91.7,2.69],[93.2,2.66],[94.3,2.69],[95.6,2.62],[97.1,2.63],[98.1,2.67],[99.8,2.68],[101.1,2.62],[102.8,2.66],[86.8,2.58],[88.1,2.53],[89.6,2.56],[90.9,2.50],[92.2,2.48],[93.4,2.58],[94.7,2.55],[96.2,2.52],[97.5,2.55],[99.0,2.57],[100.1,2.49],[101.3,2.59],[102.6,2.53],[103.7,2.48],[86.4,2.43],[87.9,2.40],[89.2,2.45],[90.5,2.42],[91.7,2.40],[93.0,2.44],[94.3,2.43],[95.6,2.37],[97.1,2.41],[98.3,2.43],[99.6,2.39],[100.9,2.45],[102.8,2.42],[86.8,2.33],[88.3,2.29],[89.6,2.35],[91.3,2.31],[92.4,2.28],[93.9,2.33],[95.1,2.27],[96.4,2.31],[97.7,2.29],[99.2,2.33],[100.3,2.27],[101.5,2.31],[103.3,2.29],[86.6,2.20],[87.7,2.17],[89.2,2.22],[90.5,2.16],[91.7,2.19],[93.2,2.20],[94.5,2.17],[95.8,2.14],[96.8,2.21],[98.1,2.18],[99.4,2.15],[100.7,2.20],[102.0,2.14],[103.7,2.19],[87.0,2.08],[88.5,2.07],[90.0,2.10],[91.3,2.05],[92.6,2.07],[94.1,2.10],[95.4,2.03],[96.6,2.06],[98.1,2.08],[99.4,2.03],[100.5,2.05],[101.8,2.09],[102.8,2.01],[86.6,1.98],[87.9,1.95],[89.4,1.98],[90.7,1.93],[92.2,1.96],[93.4,1.89],[94.7,1.98],[96.0,1.93],[97.3,1.89],[98.6,1.96],[99.8,1.93],[101.5,1.94],[103.9,1.91],[86.4,1.85],[87.5,1.81],[88.9,1.84],[90.5,1.79],[91.7,1.83],[93.0,1.81],[94.3,1.79],[95.6,1.84],[97.1,1.82],[98.1,1.79],[99.8,1.83],[101.3,1.79],[102.8,1.81],[86.6,1.73],[88.1,1.70],[89.6,1.74],[91.1,1.69],[92.2,1.72],[93.9,1.67],[95.1,1.72],[96.6,1.68],[97.9,1.69],[99.0,1.69],[100.5,1.73],[102.6,1.75],[87.0,1.63],[88.5,1.58],[89.8,1.62],[90.9,1.63],[92.2,1.65],[93.6,1.61],[94.9,1.58],[97.1,1.55],[98.1,1.56],[99.4,1.57],[100.5,1.59],[101.5,1.64],[102.4,1.56],[86.4,1.50],[87.3,1.51],[89.4,1.44],[90.7,1.53],[91.3,1.46],[93.2,1.54],[95.8,1.46],[98.1,1.42],[100.1,1.51],[100.3,1.43],[102.0,1.38],[86.2,1.42],[87.0,1.37],[88.2,1.41],[95.1,1.38],[96.4,1.39],[87.7,1.31],[88.8,1.31],[91.6,1.34],[98.1,1.36],[99.2,1.33],[95.1,1.24],[95.5,1.21]]

const ptsLowMid = [[104.7,3.19],[107.1,3.16],[108.4,3.17],[108.5,3.14],[109.9,3.12],[109.6,3.09],[110.2,3.05],[111.5,3.18],[111.5,3.14],[112.5,3.19],[113.3,3.13],[113.5,3.18],[114.7,3.16],[114.8,3.08],[115.2,3.05],[116.3,3.05],[117.1,3.07],[117.8,3.18],[118.0,3.15],[119.5,3.05],[121.0,3.06],[121.6,3.08],[122.2,3.15],[122.8,3.16],[124.0,3.14],[124.9,3.07],[125.5,3.08],[126.4,3.02],[131.0,3.12],[132.1,3.20],[104.9,3.07],[105.7,3.06],[106.2,3.02],[107.5,3.06],[108.4,2.99],[113.1,3.03],[114.3,3.01],[131.1,3.03],[132.5,3.02],[122.4,3.03],[104.3,2.95],[105.4,2.95],[106.5,2.91],[107.9,2.90],[109.0,2.91],[110.3,2.91],[111.1,2.98],[111.3,2.91],[111.3,2.85],[113.0,2.90],[113.8,2.91],[115.1,2.90],[114.3,2.95],[116.3,2.81],[118.0,3.02],[118.3,3.00],[118.6,2.94],[118.5,2.89],[119.9,2.79],[120.3,2.82],[121.7,2.96],[121.6,2.81],[122.9,2.94],[124.2,2.96],[123.1,2.78],[123.9,2.83],[125.1,2.99],[125.3,2.91],[125.5,2.84],[125.9,2.78],[126.9,2.91],[127.4,2.95],[128.8,2.99],[129.1,2.95],[128.0,2.90],[129.9,2.89],[131.2,2.96],[133.0,2.97],[128.6,2.82],[129.7,2.81],[104.5,2.82],[105.4,2.82],[104.9,2.67],[106.2,2.76],[106.4,2.67],[106.2,2.60],[107.3,2.62],[108.6,2.77],[109.2,2.83],[109.9,2.77],[109.6,2.70],[110.9,2.66],[111.6,2.62],[112.8,2.75],[113.4,2.67],[113.9,2.68],[114.8,2.66],[115.4,2.73],[115.8,2.64],[116.3,2.59],[117.3,2.69],[119.2,2.67],[120.3,2.70],[120.3,2.63],[121.5,2.63],[123.1,2.69],[124.9,2.67],[126.3,2.75],[127.6,2.74],[128.2,2.79],[128.4,2.69],[129.3,2.68],[130.1,2.72],[131.0,2.77],[131.8,2.74],[132.3,2.68],[133.1,2.64],[111.1,2.60],[112.8,2.56],[122.8,2.60],[124.2,2.56],[104.7,2.56],[107.5,2.53],[104.9,2.48],[105.2,2.42],[106.4,2.49],[107.3,2.48],[108.8,2.48],[107.5,2.40],[108.6,2.38],[110.1,2.51],[111.3,2.44],[111.6,2.53],[112.6,2.51],[113.6,2.48],[113.7,2.39],[110.3,2.34],[111.6,2.34],[112.6,2.34],[114.1,2.35],[116.9,2.32],[117.8,2.32],[119.2,2.31],[119.5,2.56],[119.7,2.50],[120.7,2.49],[121.6,2.38],[122.7,2.50],[122.5,2.43],[124.2,2.55],[125.0,2.45],[125.0,2.38],[126.3,2.40],[126.9,2.43],[127.1,2.49],[127.8,2.51],[129.3,2.56],[129.7,2.49],[131.4,2.50],[133.0,2.47],[124.4,2.32],[125.6,2.32],[128.8,2.31],[129.9,2.32],[105.4,2.25],[106.0,2.22],[106.9,2.20],[107.3,2.25],[108.6,2.22],[109.6,2.21],[110.7,2.27],[111.8,2.28],[113.1,2.27],[113.5,2.21],[114.8,2.28],[116.0,2.25],[116.7,2.27],[115.0,2.16],[116.0,2.13],[117.1,2.15],[118.2,2.19],[119.5,2.18],[119.5,2.13],[121.4,2.26],[122.7,2.26],[122.9,2.09],[124.8,2.22],[126.5,2.19],[128.6,2.17],[129.7,2.14],[130.8,2.27],[131.4,2.10],[132.5,2.07],[105.6,2.14],[106.2,2.12],[107.1,2.09],[108.4,2.12],[109.2,2.06],[110.5,2.16],[111.8,2.13],[113.1,2.09],[105.8,2.06],[104.7,2.02],[105.4,1.93],[106.4,1.89],[107.5,1.86],[108.4,2.04],[109.0,1.96],[110.1,1.96],[111.3,2.00],[112.6,1.98],[113.3,1.93],[113.5,1.85],[114.3,2.02],[116.0,1.98],[116.9,2.04],[118.0,2.02],[119.0,2.03],[119.5,1.96],[119.0,1.90],[120.4,2.06],[121.5,2.02],[122.7,2.02],[122.7,1.97],[124.4,1.98],[125.2,1.98],[126.1,2.04],[126.1,1.87],[126.4,2.10],[128.4,1.88],[132.6,1.93],[106.2,1.79],[107.3,1.76],[108.4,1.85],[110.1,1.79],[110.7,1.76],[112.0,1.80],[112.4,1.75],[116.7,1.84],[116.8,1.80],[105.4,1.79],[105.2,1.71],[106.2,1.70],[104.7,1.72],[124.6,1.78],[108.4,1.63],[109.4,1.66],[110.3,1.65],[110.5,1.55],[110.3,1.53],[112.0,1.63],[112.6,1.58],[113.5,1.52],[115.6,1.65],[119.7,1.47],[123.1,1.68],[124.4,1.52],[125.5,1.59],[104.9,1.54],[107.0,1.39],[107.1,1.31],[107.3,1.28]]

const ptsLowRight = [[134.1,3.16],[135.5,3.16],[136.8,3.18],[135.3,3.12],[136.9,3.12],[134.5,3.08],[136.5,3.05],[141.4,3.12],[141.5,3.08],[143.5,3.16],[143.4,3.07],[146.3,3.13],[148.4,3.16],[149.8,3.16],[153.6,3.16],[147.4,3.07],[148.7,3.06],[145.0,3.02],[146.2,2.98],[141.3,2.99],[141.8,2.99],[140.0,2.97],[140.7,2.93],[141.9,2.93],[139.0,2.92],[133.2,2.97],[133.2,2.91],[134.8,2.89],[136.1,2.88],[137.1,2.86],[134.7,2.84],[138.3,2.86],[139.0,2.84],[139.9,2.81],[141.7,2.83],[143.0,2.82],[143.9,2.79],[144.3,2.91],[144.0,2.87],[145.7,2.93],[145.8,2.89],[146.7,2.83],[147.5,2.87],[133.3,2.77],[138.4,2.76],[140.5,2.74],[140.9,2.74],[139.8,2.68],[136.8,2.68],[137.4,2.66],[137.5,2.61],[133.3,2.63],[134.2,2.60],[133.7,2.56],[134.0,2.55],[133.8,2.50],[136.2,2.58],[136.4,2.57],[139.9,2.59],[143.2,2.68],[143.7,2.59],[146.3,2.73],[148.3,2.73],[148.0,2.66],[147.7,2.61],[148.2,2.57],[149.6,2.59],[150.7,2.58],[149.9,2.69],[150.9,2.72],[152.3,2.72],[150.7,2.81],[152.0,2.91],[152.8,2.93],[153.9,2.89],[153.2,2.82],[154.7,2.84],[155.8,2.84],[157.1,2.84],[155.4,2.95],[156.3,3.06],[158.0,2.99],[159.5,2.91],[157.8,2.72],[155.4,2.60],[134.2,2.44],[135.7,2.49],[137.1,2.47],[137.3,2.45],[139.0,2.49],[141.0,2.50],[141.7,2.54],[143.4,2.52],[144.3,2.51],[144.6,2.45],[145.7,2.43],[146.8,2.48],[149.9,2.50],[135.7,2.43],[136.4,2.40],[139.1,2.41],[133.2,2.39],[134.5,2.36],[140.0,2.36],[141.6,2.38],[148.5,2.33],[149.8,2.26],[152.3,2.22],[153.1,2.23],[159.5,2.43],[164.4,2.45],[166.0,2.37],[136.2,2.24],[137.4,2.27],[137.9,2.27],[138.2,2.24],[139.1,2.20],[133.7,2.21],[134.1,2.19],[133.7,2.14],[133.8,2.11],[143.9,2.16],[142.0,2.12],[141.9,2.08],[133.6,2.00],[140.8,1.99],[137.2,1.85],[160.9,1.90],[162.3,2.17],[162.7,2.18],[168.0,2.10],[176.8,2.32],[173.1,2.51],[175.7,2.51],[178.3,2.47],[163.7,3.17],[166.1,3.16],[162.6,3.02],[163.2,3.03],[167.8,3.03],[168.9,3.08],[170.9,3.07],[172.2,2.99],[168.5,2.95],[163.9,2.65],[165.8,2.68],[167.7,2.71],[173.5,2.72],[183.9,3.14],[194.0,3.11],[196.6,3.08],[195.7,3.01],[189.3,2.91],[191.1,2.85],[183.2,2.70],[192.1,2.61],[198.4,2.72]]

const ptsLowLeft = [[0.9,0.69],[1.3,0.60],[0.9,0.47],[0.6,0.40],[25.0,0.23],[28.5,0.13],[21.0,0.19],[21.6,0.14],[18.5,0.22],[17.9,0.08],[20.8,0.08],[22.9,0.03],[26.3,0.01],[35.8,0.43],[40.2,0.52],[43.1,0.53],[46.3,0.54],[49.8,0.61],[55.2,0.64],[65.5,0.78],[69.5,0.76],[73.8,0.92],[76.9,0.95],[81.8,1.00],[85.1,1.05],[78.5,1.03],[71.7,0.90],[70.1,0.89],[66.4,0.84],[62.1,0.79],[59.3,0.82],[57.3,0.77],[55.9,0.73],[52.5,0.72],[48.1,0.68],[81.1,3.09],[84.0,3.13],[85.1,2.99],[82.8,2.90],[84.5,2.76],[81.6,2.67],[85.4,2.59],[83.4,2.51],[85.1,2.38],[82.2,2.28],[84.2,2.17],[85.4,2.05],[83.4,1.88],[85.1,1.75],[82.8,1.63],[84.8,1.50],[83.4,1.40],[85.4,1.34],[85.1,1.25],[82.2,1.19],[83.7,1.21],[79.9,1.17],[80.5,1.13],[78.2,1.13],[75.8,1.11],[73.0,1.06],[71.2,1.00],[68.3,0.96],[66.6,0.94],[63.7,0.92],[60.8,0.88],[57.9,0.81],[55.0,0.76],[52.1,0.75],[49.8,0.69],[46.3,0.61],[44.0,0.58],[41.7,0.56],[37.6,0.50],[34.7,0.46],[32.4,0.46],[27.8,0.38],[25.5,0.33],[23.2,0.27],[85.5,1.61],[85.5,1.46],[85.8,1.26],[85.7,1.17],[85.5,1.05],[82.2,3.15],[85.7,3.09],[81.1,2.97],[84.2,2.85],[85.7,2.69],[80.8,2.55],[84.0,2.34],[85.7,2.23],[81.1,2.13],[82.8,2.00],[84.5,1.94],[85.7,1.84],[81.6,1.75],[84.0,1.67],[85.7,1.57],[82.2,1.48]]

const width = 2500, height = 1623
const margin = { top: 48, right: 64, bottom: 284, left: 343 }
const MeV = 1e-3
const dotColor = '#555555'
const dotR = 6

const x = d3.scaleLinear().domain([0, 0.2]).range([margin.left, width - margin.right])
const y = d3.scaleLinear().domain([0, 0.008]).range([height - margin.bottom, margin.top])

const svg = d3.select('#chart').attr('width', width).attr('height', height)
const defs = svg.append('defs')

defs.append('clipPath').attr('id', 'plotArea')
  .append('rect')
  .attr('x', x(0)).attr('y', y(0.008))
  .attr('width', x(0.2) - x(0)).attr('height', y(0) - y(0.008))

// packed-dot texture for the crowded parts of the allowed band
const tileW = 14, tileH = 12
const speckle = defs.append('pattern').attr('id', 'speckle')
  .attr('patternUnits', 'userSpaceOnUse')
  .attr('width', tileW).attr('height', tileH)
for (const [cx, cy] of [[3.5, 3], [10.5, 9]]) {
  for (const dx of [-tileW, 0, tileW]) {
    for (const dy of [-tileH, 0, tileH]) {
      speckle.append('circle').attr('cx', cx + dx).attr('cy', cy + dy).attr('r', 5.7).attr('fill', dotColor)
    }
  }
}

const plot = svg.append('g').attr('clip-path', 'url(#plotArea)')

const outline = d3.line()
  .x(d => x(d[0] * MeV))
  .y(d => y(d[1] * MeV))
  .curve(d3.curveLinearClosed)

for (const core of [coreLow, coreLowEdge]) {
  plot.append('path')
    .attr('d', outline(core))
    .attr('fill', dotColor)
    .attr('stroke', dotColor)
    .attr('stroke-width', 6)
    .attr('stroke-linejoin', 'round')
}

for (const core of [coreBand, coreStrip]) {
  plot.append('path')
    .attr('d', outline(core))
    .attr('fill', 'url(#speckle)')
}

const allPts = [].concat(ptsTop, ptsBandLeft, ptsBandMid, ptsBandRight, ptsStrip, ptsLowMid, ptsLowRight, ptsLowLeft)

plot.append('g')
  .selectAll('circle')
  .data(allPts)
  .join('circle')
  .attr('cx', d => x(d[0] * MeV))
  .attr('cy', d => y(d[1] * MeV))
  .attr('r', dotR)
  .attr('fill', dotColor)

// the allowed cross, one shape laid over the points
const xl = x(0), xr = x(0.2), yt = y(0.008), yb = y(0)
const b0 = x(bandMs[0]), b1 = x(bandMs[1])
const h0 = y(bandMd[1]), h1 = y(bandMd[0])
const cross = `M${xl},${h0}H${b0}V${yt}H${b1}V${h0}H${xr}V${h1}H${b1}V${yb}H${b0}V${h1}H${xl}Z`
plot.append('path')
  .attr('d', cross)
  .attr('fill', 'rgb(0,0,170)')
  .attr('fill-opacity', 0.4)

// frame and ticks
const fmtX = d3.format('.2f'), fmtY = d3.format('.3f')
const tickFont = 70

function styleAxis(g) {
  g.select('.domain').remove()
  g.selectAll('line').attr('stroke', '#000').attr('stroke-width', 2)
  g.selectAll('text').attr('font-size', tickFont).attr('fill', '#000')
    .attr('font-family', '"Liberation Serif", serif')
}

svg.append('g').attr('transform', `translate(0,${yb})`)
  .call(d3.axisBottom(x).tickValues(xTicks).tickSize(-8).tickPadding(48).tickFormat(fmtX)).call(styleAxis)
svg.append('g').attr('transform', `translate(0,${yb})`)
  .call(d3.axisBottom(x).ticks(20).tickSize(-4).tickFormat('')).call(styleAxis)
svg.append('g').attr('transform', `translate(0,${yt})`)
  .call(d3.axisTop(x).tickValues(xTicks).tickSize(-8).tickFormat('')).call(styleAxis)
svg.append('g').attr('transform', `translate(0,${yt})`)
  .call(d3.axisTop(x).ticks(20).tickSize(-4).tickFormat('')).call(styleAxis)

svg.append('g').attr('transform', `translate(${xl},0)`)
  .call(d3.axisLeft(y).tickValues(yTicks).tickSize(-8).tickPadding(22).tickFormat(fmtY)).call(styleAxis)
svg.append('g').attr('transform', `translate(${xl},0)`)
  .call(d3.axisLeft(y).ticks(16).tickSize(-4).tickFormat('')).call(styleAxis)
svg.append('g').attr('transform', `translate(${xr},0)`)
  .call(d3.axisRight(y).tickValues(yTicks).tickSize(-8).tickFormat('')).call(styleAxis)
svg.append('g').attr('transform', `translate(${xr},0)`)
  .call(d3.axisRight(y).ticks(16).tickSize(-4).tickFormat('')).call(styleAxis)

svg.append('rect')
  .attr('x', xl).attr('y', yt)
  .attr('width', xr - xl).attr('height', yb - yt)
  .attr('fill', 'none').attr('stroke', '#000').attr('stroke-width', 2)

// axis titles
const xTitle = svg.append('text')
  .attr('x', (xl + xr) / 2).attr('y', 1588)
  .attr('text-anchor', 'middle').attr('font-size', 103)
xTitle.append('tspan').attr('font-style', 'italic').text('M')
xTitle.append('tspan').attr('font-style', 'italic').attr('font-size', 72).attr('dy', 14).text('s')
xTitle.append('tspan').attr('dy', -14).attr('dx', 14).text(' [GeV]')

const yTitle = svg.append('text')
  .attr('transform', `translate(113,${(yt + yb) / 2}) rotate(-90)`)
  .attr('text-anchor', 'middle').attr('font-size', 103)
yTitle.append('tspan').attr('font-style', 'italic').text('M')
yTitle.append('tspan').attr('font-style', 'italic').attr('font-size', 72).attr('dy', 17).text('d')
yTitle.append('tspan').attr('dy', -17).attr('dx', 10).text(' [GeV]')
</script>
</body>
</html>
